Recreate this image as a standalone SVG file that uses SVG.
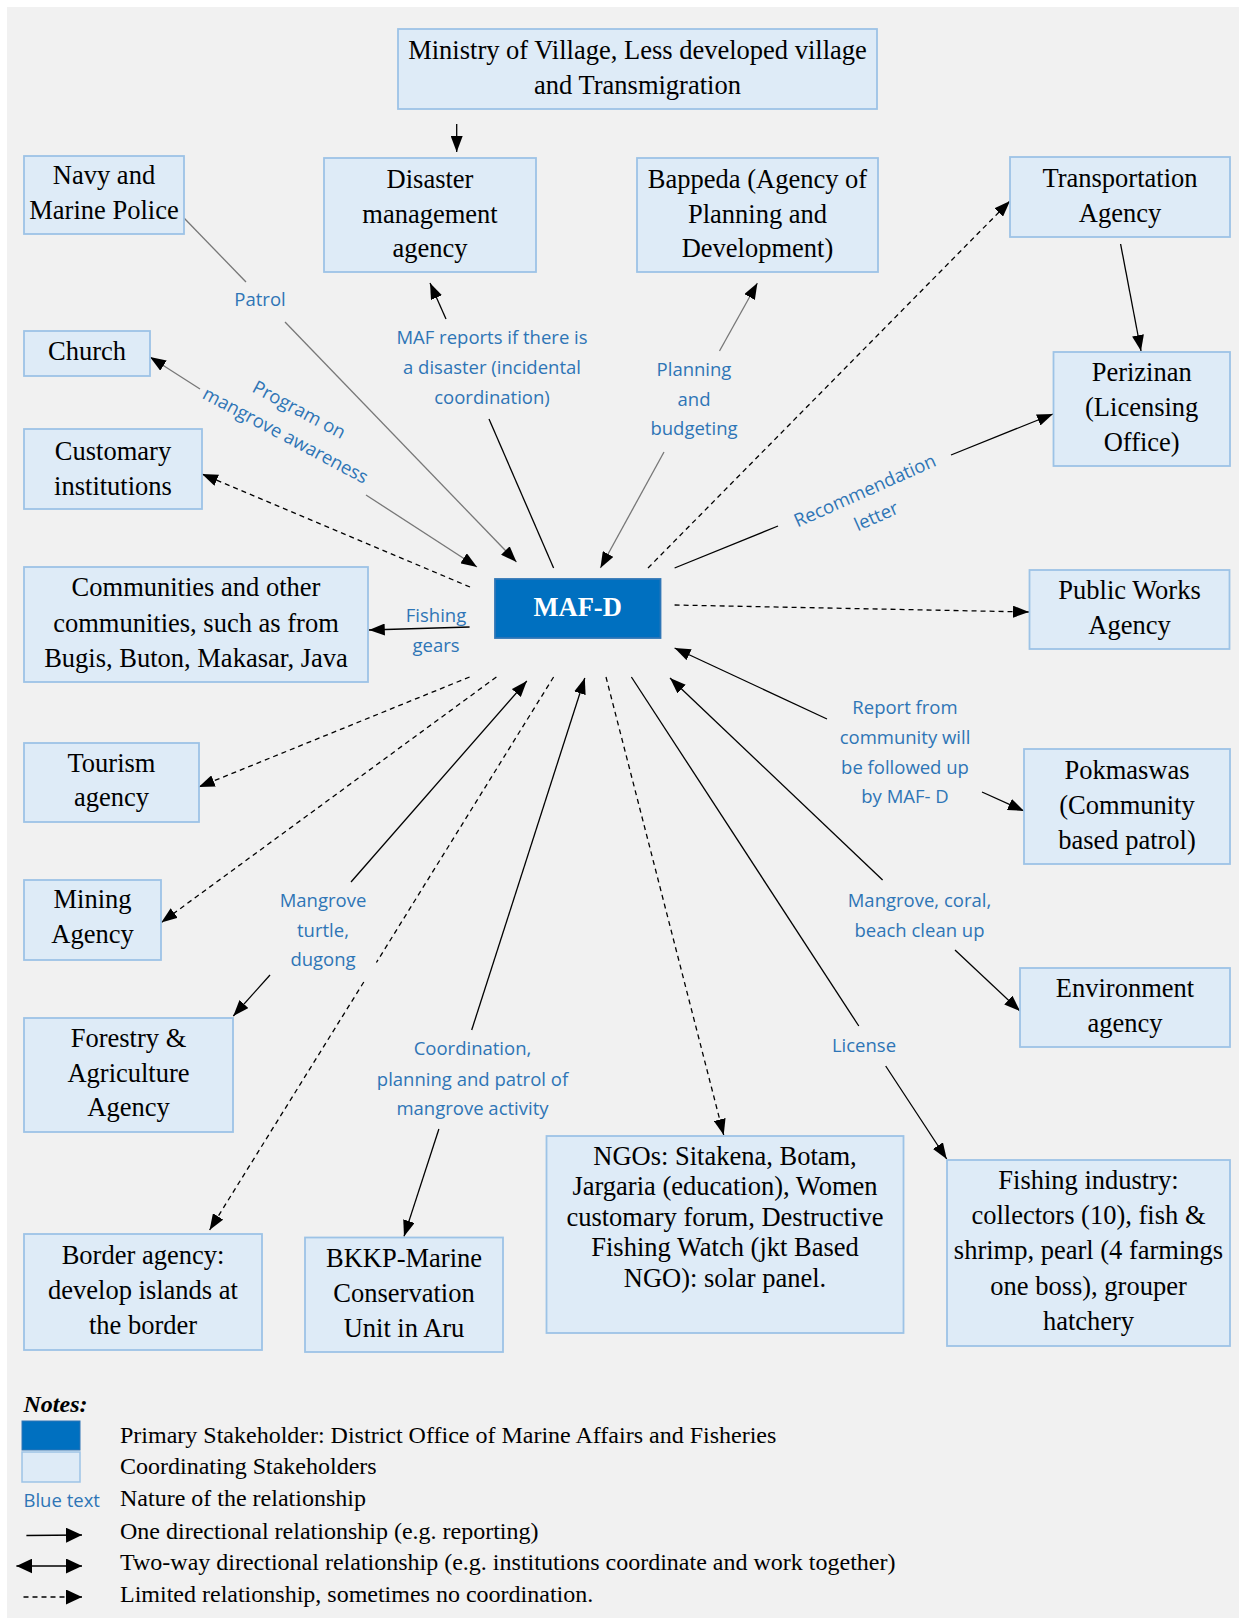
<svg xmlns="http://www.w3.org/2000/svg" width="1239" height="1618" viewBox="0 0 1239 1618">
<style>
.node{fill:#deebf7;stroke:#9dc3e6;stroke-width:1.8}
.primary{fill:#0070c0;stroke:#2e75b6;stroke-width:1.8}
.nt{font-family:"Liberation Serif","Times New Roman",serif;font-size:26.5px;fill:#000;text-anchor:middle}
.pt{font-family:"Liberation Serif","Times New Roman",serif;font-size:26.5px;font-weight:bold;fill:#fff;text-anchor:middle}
.lbl{font-family:"Open Sans","Noto Sans",sans-serif;font-size:18.5px;fill:#2e75b6;text-anchor:middle}
.lg{font-family:"Liberation Serif","Times New Roman",serif;font-size:24px;fill:#000}
.c{fill:none;stroke:#000;stroke-width:1.3}
.g{stroke:#777}
.d{stroke-dasharray:5 4}
.end{marker-end:url(#ah)}
.both{marker-start:url(#ah);marker-end:url(#ah)}
</style>
<defs>
<marker id="ah" markerUnits="userSpaceOnUse" markerWidth="16" markerHeight="12" refX="16" refY="6" orient="auto-start-reverse"><path d="M0,0 L16,6 L0,12 z" fill="#000"/></marker>
<marker id="lah" markerUnits="userSpaceOnUse" markerWidth="16" markerHeight="15" refX="16" refY="7.5" orient="auto-start-reverse"><path d="M0,0 L16,7.5 L0,15 z" fill="#000"/></marker>
</defs>
<rect x="0" y="0" width="1239" height="1618" fill="#fff"/>
<rect x="7" y="7" width="1232" height="1611" fill="#f1f1f1"/>

<g id="connectors">
<path class="c end" d="M456.7,124 L456.7,152"/>
<path class="c g" d="M184,218 L246,282"/>
<path class="c g end" d="M285,322 L516.5,562"/>
<path class="c g" d="M150,357 L200,389" marker-start="url(#ah)"/>
<path class="c g end" d="M366,495 L477,567"/>
<path class="c d end" d="M470,587 L202,474"/>
<path class="c" d="M553.6,568 L489,419"/>
<path class="c end" d="M446,319 L430,283"/>
<path class="c g" d="M757.4,283 L719.5,351" marker-start="url(#ah)"/>
<path class="c g end" d="M664,452 L600.4,568"/>
<path class="c d end" d="M648,568 L1010,201"/>
<path class="c end" d="M1120.6,244 L1141,351"/>
<path class="c" d="M674.6,568 L778,526"/>
<path class="c end" d="M951,455 L1053,414"/>
<path class="c d end" d="M674.6,605 L1029,612"/>
<path class="c" d="M674.6,648 L827,719" marker-start="url(#ah)"/>
<path class="c end" d="M982,792 L1024,811"/>
<path class="c" d="M670,678 L882.6,880" marker-start="url(#ah)"/>
<path class="c end" d="M955,950 L1020,1011"/>
<path class="c" d="M631.4,677 L858.8,1026"/>
<path class="c end" d="M885.7,1066 L946.7,1159"/>
<path class="c d end" d="M606,677 L723.7,1135"/>
<path class="c end" d="M469.6,627 L368.8,630"/>
<path class="c d end" d="M469.6,677 L198.7,787"/>
<path class="c d end" d="M496.4,677 L161.3,922.5"/>
<path class="c" d="M526.8,681 L351,882" marker-start="url(#ah)"/>
<path class="c end" d="M270,975 L233.3,1016"/>
<path class="c d" d="M553.6,677 L376.4,962.5"/>
<path class="c d end" d="M363.8,982 L209.6,1230"/>
<path class="c" d="M584.8,678 L471.7,1030" marker-start="url(#ah)"/>
<path class="c end" d="M438.9,1129 L404,1236.4"/>
</g>

<g id="labels">
<text class="lbl" x="260" y="306">Patrol</text>
<text class="lbl"><tspan x="492" y="344">MAF reports if there is</tspan><tspan x="492" y="374">a disaster (incidental</tspan><tspan x="492" y="403.5">coordination)</tspan></text>
<text class="lbl"><tspan x="694" y="376">Planning</tspan><tspan x="694" y="406">and</tspan><tspan x="694" y="435">budgeting</tspan></text>
<text class="lbl" transform="translate(299,410) rotate(28)"><tspan x="0" y="6">Program on</tspan><tspan x="0" y="35">mangrove awareness</tspan></text>
<text class="lbl" transform="translate(865,491) rotate(-24)"><tspan x="0" y="6">Recommendation</tspan><tspan x="0" y="34">letter</tspan></text>
<text class="lbl"><tspan x="436" y="621.5">Fishing</tspan><tspan x="436" y="651.5">gears</tspan></text>
<text class="lbl"><tspan x="905" y="714">Report from</tspan><tspan x="905" y="744">community will</tspan><tspan x="905" y="774">be followed up</tspan><tspan x="905" y="803">by MAF- D</tspan></text>
<text class="lbl"><tspan x="323" y="907">Mangrove</tspan><tspan x="323" y="937">turtle,</tspan><tspan x="323" y="966">dugong</tspan></text>
<text class="lbl"><tspan x="919.5" y="906.5">Mangrove, coral,</tspan><tspan x="919.5" y="936.5">beach clean up</tspan></text>
<text class="lbl"><tspan x="472.5" y="1055">Coordination,</tspan><tspan x="472.5" y="1085.5">planning and patrol of</tspan><tspan x="472.5" y="1115">mangrove activity</tspan></text>
<text class="lbl" x="864" y="1052">License</text>
</g>

<g id="ministry"><rect class="node" x="398" y="29" width="479" height="80"/><text class="nt"><tspan x="637.5" y="59">Ministry of Village, Less developed village</tspan><tspan x="637.5" y="94">and Transmigration</tspan></text></g>
<g id="navy"><rect class="node" x="24" y="156" width="160" height="78"/><text class="nt"><tspan x="104" y="184">Navy and</tspan><tspan x="104" y="219">Marine Police</tspan></text></g>
<g id="disaster"><rect class="node" x="324" y="158" width="212" height="114"/><text class="nt"><tspan x="430" y="188">Disaster</tspan><tspan x="430" y="222.5">management</tspan><tspan x="430" y="257">agency</tspan></text></g>
<g id="bappeda"><rect class="node" x="637" y="158" width="241" height="114"/><text class="nt"><tspan x="757.5" y="188">Bappeda (Agency of</tspan><tspan x="757.5" y="222.5">Planning and</tspan><tspan x="757.5" y="257">Development)</tspan></text></g>
<g id="transportation"><rect class="node" x="1010" y="157" width="220" height="80"/><text class="nt"><tspan x="1120" y="187">Transportation</tspan><tspan x="1120" y="222">Agency</tspan></text></g>
<g id="perizinan"><rect class="node" x="1053.5" y="352" width="176.5" height="114"/><text class="nt"><tspan x="1141.7" y="381">Perizinan</tspan><tspan x="1141.7" y="416">(Licensing</tspan><tspan x="1141.7" y="451">Office)</tspan></text></g>
<g id="church"><rect class="node" x="24" y="331" width="126" height="45"/><text class="nt" x="87" y="359.5">Church</text></g>
<g id="customary"><rect class="node" x="24" y="429" width="178" height="80"/><text class="nt"><tspan x="113" y="459.5">Customary</tspan><tspan x="113" y="494.5">institutions</tspan></text></g>
<g id="communities"><rect class="node" x="24" y="567" width="344" height="115"/><text class="nt"><tspan x="196" y="596">Communities and other</tspan><tspan x="196" y="631.5">communities, such as from</tspan><tspan x="196" y="666.5">Bugis, Buton, Makasar, Java</tspan></text></g>
<g id="mafd"><rect class="primary" x="495" y="579" width="165.5" height="59"/><text class="pt" x="577.7" y="616">MAF-D</text></g>
<g id="tourism"><rect class="node" x="24" y="743" width="175" height="79"/><text class="nt"><tspan x="111.5" y="771.5">Tourism</tspan><tspan x="111.5" y="806">agency</tspan></text></g>
<g id="publicworks"><rect class="node" x="1029.5" y="570" width="200" height="79"/><text class="nt"><tspan x="1129.5" y="599">Public Works</tspan><tspan x="1129.5" y="633.5">Agency</tspan></text></g>
<g id="pokmaswas"><rect class="node" x="1024" y="749" width="206" height="115"/><text class="nt"><tspan x="1127" y="779">Pokmaswas</tspan><tspan x="1127" y="814">(Community</tspan><tspan x="1127" y="848.5">based patrol)</tspan></text></g>
<g id="mining"><rect class="node" x="24" y="880" width="137" height="80"/><text class="nt"><tspan x="92.5" y="908">Mining</tspan><tspan x="92.5" y="943">Agency</tspan></text></g>
<g id="forestry"><rect class="node" x="24" y="1018" width="209" height="114"/><text class="nt"><tspan x="128.5" y="1046.5">Forestry &amp;</tspan><tspan x="128.5" y="1081.5">Agriculture</tspan><tspan x="128.5" y="1116">Agency</tspan></text></g>
<g id="border"><rect class="node" x="24" y="1234" width="238" height="116"/><text class="nt"><tspan x="143" y="1263.5">Border agency:</tspan><tspan x="143" y="1298.5">develop islands at</tspan><tspan x="143" y="1334">the border</tspan></text></g>
<g id="bkkp"><rect class="node" x="305" y="1237.5" width="198" height="114.5"/><text class="nt"><tspan x="404" y="1267">BKKP-Marine</tspan><tspan x="404" y="1302">Conservation</tspan><tspan x="404" y="1337">Unit in Aru</tspan></text></g>
<g id="ngos"><rect class="node" x="546.5" y="1136" width="357" height="197"/><text class="nt"><tspan x="725" y="1164.5">NGOs: Sitakena, Botam,</tspan><tspan x="725" y="1195">Jargaria (education), Women</tspan><tspan x="725" y="1225.5">customary forum, Destructive</tspan><tspan x="725" y="1256">Fishing Watch (jkt Based</tspan><tspan x="725" y="1286.5">NGO): solar panel.</tspan></text></g>
<g id="environment"><rect class="node" x="1020" y="968" width="210" height="79"/><text class="nt"><tspan x="1125" y="996.5">Environment</tspan><tspan x="1125" y="1032">agency</tspan></text></g>
<g id="fishing"><rect class="node" x="947" y="1160" width="283" height="186"/><text class="nt"><tspan x="1088.5" y="1188.5">Fishing industry:</tspan><tspan x="1088.5" y="1224">collectors (10), fish &amp;</tspan><tspan x="1088.5" y="1259">shrimp, pearl (4 farmings</tspan><tspan x="1088.5" y="1294.5">one boss), grouper</tspan><tspan x="1088.5" y="1329.5">hatchery</tspan></text></g>

<g id="legend">
<text class="lg" x="23.5" y="1412" font-weight="bold" font-style="italic">Notes:</text>
<rect x="22" y="1421" width="58" height="29" fill="#0070c0" stroke="#2e75b6" stroke-width="1"/>
<rect x="22" y="1452" width="58" height="30" fill="#deebf7" stroke="#9dc3e6" stroke-width="1.5"/>
<text class="lbl" x="23.5" y="1507" style="text-anchor:start">Blue text</text>
<path class="c" d="M26.4,1535.5 L82,1535" marker-end="url(#lah)"/>
<path class="c" d="M16.4,1566 L82,1566" marker-start="url(#lah)" marker-end="url(#lah)"/>
<path class="c d" d="M23.5,1597 L82,1597" marker-end="url(#lah)"/>
<text class="lg" x="120" y="1443">Primary Stakeholder: District Office of Marine Affairs and Fisheries</text>
<text class="lg" x="120" y="1474">Coordinating Stakeholders</text>
<text class="lg" x="120" y="1506">Nature of the relationship</text>
<text class="lg" x="120" y="1538.5">One directional relationship (e.g. reporting)</text>
<text class="lg" x="120" y="1570">Two-way directional relationship (e.g. institutions coordinate and work together)</text>
<text class="lg" x="120" y="1601.5">Limited relationship, sometimes no coordination.</text>
</g>
</svg>
